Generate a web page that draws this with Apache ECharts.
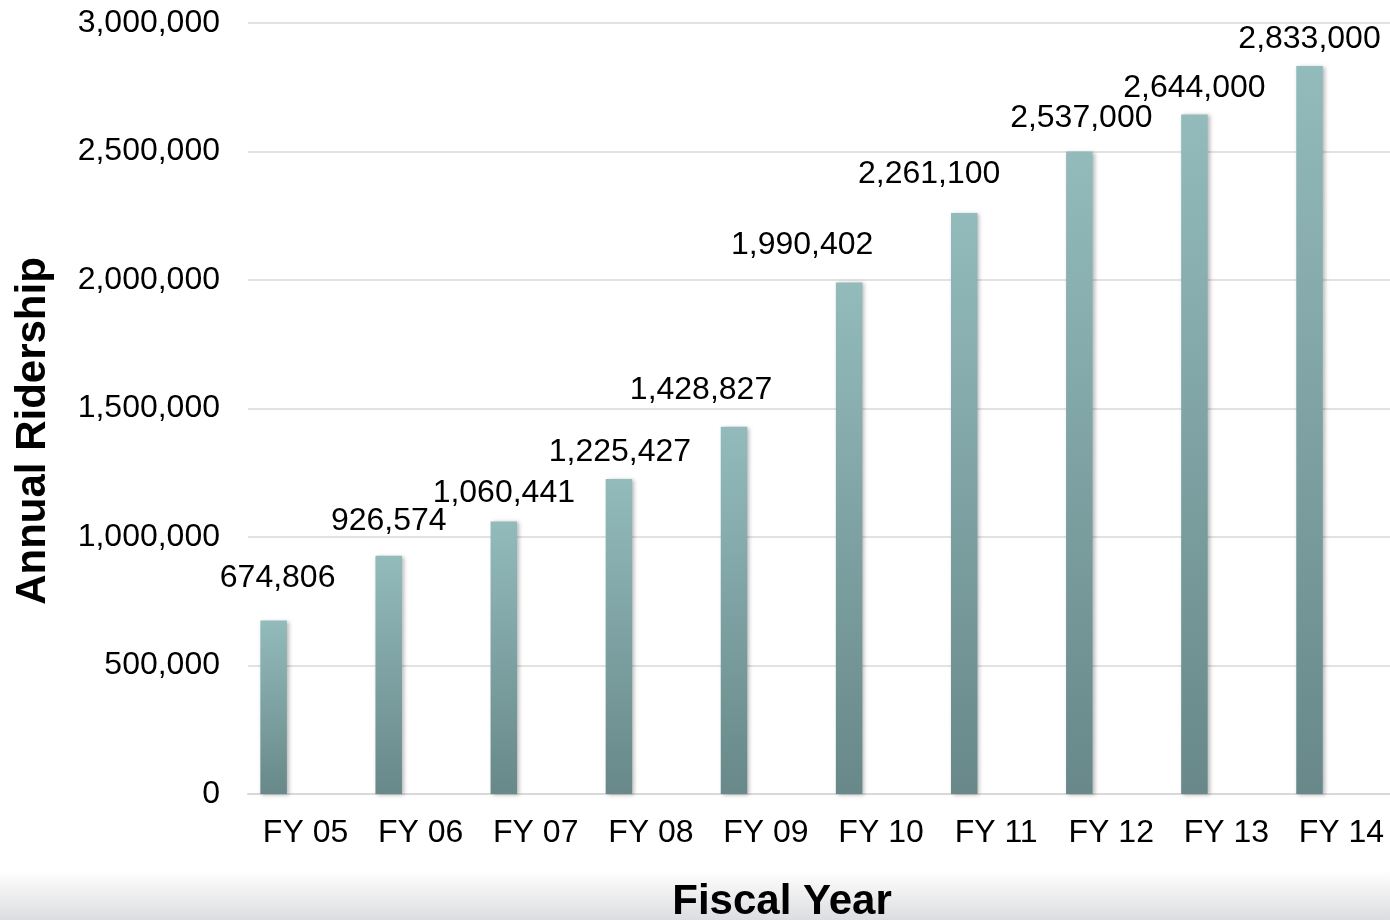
<!DOCTYPE html>
<html>
<head>
<meta charset="utf-8">
<script src="https://cdn.jsdelivr.net/npm/echarts@6/dist/echarts.min.js"></script>
<style>
  html, body { margin: 0; padding: 0; background: #ffffff; overflow: hidden; }
  #chart { width: 1400px; height: 920px; }
</style>
</head>
<body>
<div id="chart"></div>
<script>
// ---- data ----
const categories = ['FY 05', 'FY 06', 'FY 07', 'FY 08', 'FY 09', 'FY 10', 'FY 11', 'FY 12', 'FY 13', 'FY 14'];
const ridership = [674806, 926574, 1060441, 1225427, 1428827, 1990402, 2261100, 2500000, 2644000, 2833000];
const valueLabels = ['674,806', '926,574', '1,060,441', '1,225,427', '1,428,827', '1,990,402', '2,261,100', '2,537,000', '2,644,000', '2,833,000'];
const yTicks = [0, 500000, 1000000, 1500000, 2000000, 2500000, 3000000];
const yAxisTitle = 'Annual Ridership';
const xAxisTitle = 'Fiscal Year';

// ---- label placement nudges (layout only) ----
const labelDx = [4, 0, 0, 1, -33, -47, -35, 2, 0, 0];
const labelDy = [-26, -19, -12, -11, -21, -21, -23, -17, -10, -11];

const font = 'Liberation Sans, Arial, Helvetica, sans-serif';
const chart = echarts.init(document.getElementById('chart'), null, { renderer: 'canvas' });

const barData = ridership.map((v, i) => ({
  value: v,
  label: { formatter: valueLabels[i], offset: [labelDx[i], labelDy[i]] }
}));

const option = {
  backgroundColor: '#ffffff',
  animation: false,
  graphic: [
    {
      type: 'rect', z: -10, silent: true,
      shape: { x: 0, y: 870, width: 1400, height: 50 },
      style: {
        fill: new echarts.graphic.LinearGradient(0, 0, 0, 1, [
          { offset: 0, color: 'rgba(255,255,255,1)' },
          { offset: 1, color: '#dcdde0' }
        ])
      }
    },
    {
      type: 'text', x: 33, y: 431, rotation: Math.PI / 2,
      style: {
        text: yAxisTitle, font: 'bold 42px ' + font, fill: '#000',
        align: 'center', verticalAlign: 'middle'
      }
    },
    {
      type: 'text', x: 782, y: 902,
      style: {
        text: xAxisTitle, font: 'bold 42px ' + font, fill: '#000',
        align: 'center', verticalAlign: 'middle'
      }
    }
  ],
  grid: { left: 248, top: 23, bottom: 126, right: 1, containLabel: false },
  xAxis: {
    type: 'category',
    data: categories,
    axisLine: { show: true, lineStyle: { color: '#d9d9d9', width: 2 } },
    axisTick: { show: false },
    axisLabel: { color: '#000', fontSize: 32, fontFamily: font, margin: 23, interval: 0 }
  },
  yAxis: {
    type: 'value',
    min: yTicks[0],
    max: yTicks[yTicks.length - 1],
    interval: yTicks[1] - yTicks[0],
    axisLine: { show: false },
    axisTick: { show: false },
    splitLine: { lineStyle: { color: '#d9d9d9', width: 1.5 } },
    axisLabel: {
      color: '#000', fontSize: 32, fontFamily: font, margin: 28,
      formatter: v => v.toLocaleString('en-US')
    }
  },
  series: [
    {
      type: 'bar',
      data: barData,
      barWidth: 26.5,
      barGap: '141%',
      itemStyle: {
        color: new echarts.graphic.LinearGradient(0, 0, 0, 1, [
          { offset: 0, color: '#93bbbc' },
          { offset: 1, color: '#688889' }
        ]),
        shadowColor: 'rgba(0,0,0,0.28)',
        shadowBlur: 4,
        shadowOffsetX: 2,
        shadowOffsetY: 1
      },
      label: {
        show: true, position: 'top', distance: 0,
        color: '#000', fontSize: 32, fontFamily: font
      }
    },
    {
      type: 'bar',
      data: categories.map(() => null),
      barWidth: 26.5
    }
  ]
};
chart.setOption(option);
</script>
</body>
</html>
